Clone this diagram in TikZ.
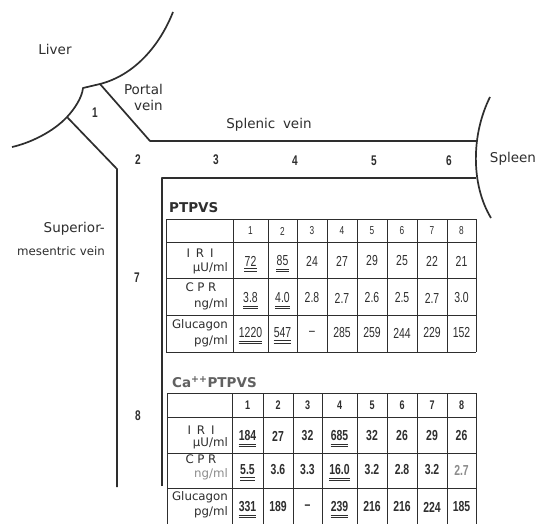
\documentclass[tikz,border=0pt]{standalone}
\usepackage{fontspec}
\setmainfont{DejaVu Sans}
\newfontfamily\numf[FakeStretch=0.72]{Liberation Sans}
\definecolor{ink}{HTML}{2E2E2E}
\definecolor{faded}{HTML}{8C8C8C}
\newcommand\tabrow[4]{%
  \foreach \x/\t/\u [count=\i] in {#4}{%
    \node[#3] (#1\i) at (\x,#2) {\t};
    \ifnum\u=1
      \draw[dul] ([yshift=-2.6pt]#1\i.south west) -- ([yshift=-2.6pt]#1\i.south east);
      \draw[dul] ([yshift=-5.0pt]#1\i.south west) -- ([yshift=-5.0pt]#1\i.south east);
    \fi
  }}
\begin{document}
\begin{tikzpicture}[x=1pt,y=-1pt,
  vein/.style={draw=ink,line width=1.7pt,line join=round},
  gridl/.style={draw=ink,line width=0.9pt},
  lbl/.style={text=ink,inner sep=0pt,font=\fontsize{13.5}{15}\selectfont},
  seg/.style={text=ink,inner sep=0pt,font=\numf\bfseries\fontsize{14}{15}\selectfont},
  ttl/.style={text=ink,inner sep=0pt,anchor=west,font=\bfseries\fontsize{13.5}{15}\selectfont},
  hdr/.style={text=ink,inner sep=0pt,font=\fontsize{11.8}{13}\selectfont},
  colA/.style={text=ink,inner sep=0pt,font=\numf\fontsize{11.5}{12}\selectfont},
  colB/.style={text=ink,inner sep=0pt,font=\numf\bfseries\fontsize{12.5}{13}\selectfont},
  numA/.style={text=ink,inner sep=0pt,font=\numf\fontsize{14.5}{15}\selectfont},
  numB/.style={text=ink,inner sep=0pt,font=\numf\bfseries\fontsize{14.5}{15}\selectfont},
  dul/.style={draw=ink,line width=0.8pt},
]
\fill[white] (0,0) rectangle (540,524);
\useasboundingbox (0,0) rectangle (540,524);

% ---------- veins ----------
\coordinate (livtop) at (173,12);
\coordinate (pr) at (100,84);
\coordinate (pm) at (83,88);
\coordinate (pl) at (67,117);
\coordinate (livbot) at (12,147);
\coordinate (prc) at (150,141);
\coordinate (plc) at (117,169);
\coordinate (smvend) at (117,487);
\coordinate (boxc) at (162,178);
\coordinate (boxend) at (162,486);
\coordinate (spt) at (476,141);
\coordinate (spb) at (476,178);

\draw[vein] (livtop) .. controls (160,45) and (135,75) .. (pr) -- (pm)
  .. controls (82,98) and (74,109.5) .. (pl)
  .. controls (53,132) and (30,143) .. (livbot);
\draw[vein] (pr) -- (prc) -- (spt);
\draw[vein] (pl) -- (plc) -- (smvend);
\draw[vein] (boxend) -- (boxc) -- (spb);
\draw[vein] (490,97) .. controls (471,135) and (471,185) .. (491,218);

% ---------- labels ----------
\node[lbl] (liver) at (55,49) {Liver};
\node[lbl,anchor=east] (portal1) at (163,89) {Portal};
\node[lbl,anchor=east] (portal2) at (163,105) {vein};
\node[lbl] (splenic) at (269,125) {Splenic\hspace{0.25em} vein};
\node[lbl] (spleen) at (513,159) {Spleen};
\node[lbl,anchor=east] (smv1) at (105,229) {Superior-};
\node[lbl,anchor=east,font=\fontsize{11.8}{13}\selectfont] (smv2) at (105,251) {mesentric vein};

\node[seg] (s1) at (95,113) {1};
\node[seg] (s2) at (138,160) {2};
\node[seg] (s3) at (216,160) {3};
\node[seg] (s4) at (295,161) {4};
\node[seg] (s5) at (374,161) {5};
\node[seg] (s6) at (449,161) {6};
\node[seg] (s7) at (137,278) {7};
\node[seg] (s8) at (138,416) {8};

% ---------- table 1 ----------
\node[ttl] (ttlA) at (169,208) {PTPVS};
\foreach \x in {166,233,268,297,327,357,387,417,447,476}
  \draw[gridl] (\x,219) -- (\x,352);
\foreach \y in {219,242,278,315,352}
  \draw[gridl] (166,\y) -- (476,\y);

\node[hdr] (aIRI) at (200,253) {I\hspace{0.5em}R\hspace{0.5em}I};
\node[hdr,anchor=east] (aIRIu) at (228,268) {μU/ml};
\node[hdr] (aCPR) at (201,287) {C\hspace{0.3em}P\hspace{0.3em}R};
\node[hdr,anchor=east] (aCPRu) at (228,304) {ng/ml};
\node[hdr] (aGlu) at (200,325) {Glucagon};
\node[hdr,anchor=east] (aGluu) at (228,341) {pg/ml};

\tabrow{ah}{231}{colA}{250.5/1/0,282.5/2/0,312/3/0,342/4/0,372/5/0,402/6/0,432/7/0,461.5/8/0}
\tabrow{ai}{261}{numA}{250.5/72/1,282.5/85/1,312/24/0,342/27/0,372/29/0,402/25/0,432/22/0,461.5/21/0}
\tabrow{ac}{298}{numA}{250.5/3.8/1,282.5/4.0/1,312/2.8/0,342/2.7/0,372/2.6/0,402/2.5/0,432/2.7/0,461.5/3.0/0}
\tabrow{ag}{333}{numA}{250.5/1220/1,282.5/547/1,312/\textendash/0,342/285/0,372/259/0,402/244/0,432/229/0,461.5/152/0}

% ---------- table 2 ----------
\node[ttl,text=black!62] (ttlB) at (172,382) {Ca\textsuperscript{++}PTPVS};
\foreach \x in {167,232,263,293,322,357,387,417,447,476}
  \draw[gridl] (\x,393) -- (\x,524);
\foreach \y in {393,417,453,488}
  \draw[gridl] (167,\y) -- (476,\y);

\node[hdr] (bIRI) at (201,430) {I\hspace{0.5em}R\hspace{0.5em}I};
\node[hdr,anchor=east] (bIRIu) at (228,443) {μU/ml};
\node[hdr] (bCPR) at (201,459) {C\hspace{0.3em}P\hspace{0.3em}R};
\node[hdr,anchor=east,text=faded] (bCPRu) at (228,474) {ng/ml};
\node[hdr] (bGlu) at (200,497) {Glucagon};
\node[hdr,anchor=east] (bGluu) at (228,512) {pg/ml};

\tabrow{bh}{405}{colB}{247.5/1/0,278/2/0,307.5/3/0,339.5/4/0,372/5/0,402/6/0,432/7/0,461.5/8/0}
\tabrow{bi}{436}{numB}{247.5/184/1,278/27/0,307.5/32/0,339.5/685/1,372/32/0,402/26/0,432/29/0,461.5/26/0}
\tabrow{bc}{470}{numB}{247.5/5.5/1,278/3.6/0,307.5/3.3/0,339.5/16.0/1,372/3.2/0,402/2.8/0,432/3.2/0,461.5/{\color{faded}2.7}/0}
\tabrow{bg}{507}{numB}{247.5/331/1,278/189/0,307.5/\textendash/0,339.5/239/1,372/216/0,402/216/0,432/224/0,461.5/185/0}
\end{tikzpicture}
\end{document}
